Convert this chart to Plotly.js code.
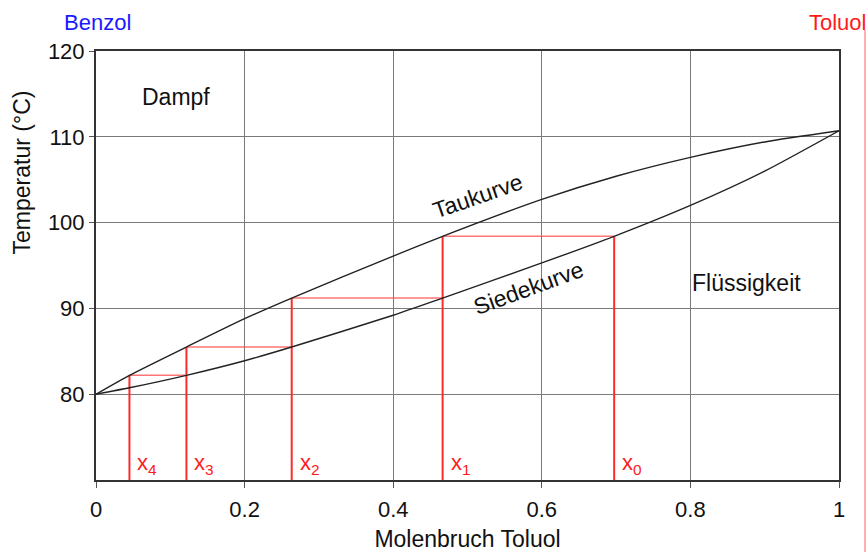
<!DOCTYPE html>
<html>
<head>
<meta charset="utf-8">
<script src="https://cdn.plot.ly/plotly-3.0.1.min.js"></script>
<style>html,body{margin:0;padding:0;background:#fff;}#chart{width:868px;height:552px;}</style>
</head>
<body>
<div id="chart"></div>
<script>
// Dew curve (Taukurve)
const dewX = [0, 0.045, 0.1217, 0.2, 0.2634, 0.4, 0.4665, 0.6, 0.7, 0.8, 0.9, 1];
const dewT = [80, 82.2, 85.5, 88.8, 91.2, 96.1, 98.4, 102.7, 105.4, 107.6, 109.4, 110.7];
// Boiling curve (Siedekurve)
const boilX = [0, 0.045, 0.1217, 0.2, 0.2634, 0.4, 0.4665, 0.6, 0.6974, 0.8, 0.9, 1];
const boilT = [80, 80.75, 82.2, 83.9, 85.5, 89.2, 91.2, 95.3, 98.4, 102.0, 106.0, 110.7];
// Staircase compositions x0..x4 and horizontal step temperatures
const stepX = [0.6974, 0.4665, 0.2634, 0.1217, 0.045];
const stepT = [98.4, 91.2, 85.5, 82.2];
const stepLabels = ['x<sub>0</sub>', 'x<sub>1</sub>', 'x<sub>2</sub>', 'x<sub>3</sub>', 'x<sub>4</sub>'];
const xTicks = [0, 0.2, 0.4, 0.6, 0.8, 1];
const xTickText = ['0', '0.2', '0.4', '0.6', '0.8', '1'];
const yTicks = [80, 90, 100, 110, 120];
const yMin = 70, yMax = 120;

const FONT = 'Liberation Sans, Arial, sans-serif';

// vertical red lines
const vx = [], vy = [];
stepX.forEach((x, i) => {
  const top = stepT[Math.max(i - 1, 0)];
  vx.push(x, x, null); vy.push(yMin, top, null);
});
// horizontal red lines
const hx = [], hy = [];
stepT.forEach((t, i) => {
  hx.push(stepX[i + 1], stepX[i], null); hy.push(t, t, null);
});

const traces = [
  {x: hx, y: hy, mode: 'lines', line: {color: 'rgba(255,70,70,0.75)', width: 1.5}, hoverinfo: 'skip'},
  {x: vx, y: vy, mode: 'lines', line: {color: '#ff2a2a', width: 2}, hoverinfo: 'skip'},
  {x: dewX, y: dewT, mode: 'lines', line: {color: '#222', width: 1.4, shape: 'spline', smoothing: 0.6}, name: 'Taukurve'},
  {x: boilX, y: boilT, mode: 'lines', line: {color: '#222', width: 1.4, shape: 'spline', smoothing: 0.6}, name: 'Siedekurve'}
];

const annotations = [
  {text: 'Benzol', xref: 'paper', yref: 'paper', x: 0.002, y: 1.067, showarrow: false, font: {family: FONT, size: 22, color: '#1a1aff'}, xanchor: 'center', yanchor: 'middle'},
  {text: 'Toluol', xref: 'paper', yref: 'paper', x: 0.998, y: 1.067, showarrow: false, font: {family: FONT, size: 22, color: '#ff1a1a'}, xanchor: 'center', yanchor: 'middle'},
  {text: 'Temperatur (°C)', xref: 'paper', yref: 'paper', x: -0.099, y: 0.718, textangle: -90, showarrow: false, font: {family: FONT, size: 23, color: '#111'}, xanchor: 'center', yanchor: 'middle'},
  {text: 'Dampf', x: 0.107, y: 114.6, showarrow: false, font: {family: FONT, size: 23, color: '#111'}},
  {text: 'Flüssigkeit', x: 0.875, y: 93.0, showarrow: false, font: {family: FONT, size: 23, color: '#111'}},
  {text: 'Taukurve', x: 0.514, y: 103.1, textangle: -19, showarrow: false, font: {family: FONT, size: 23, color: '#111'}},
  {text: 'Siedekurve', x: 0.582, y: 92.4, textangle: -20, showarrow: false, font: {family: FONT, size: 23, color: '#111'}}
];
stepX.forEach((x, i) => {
  annotations.push({text: stepLabels[i], x: x, y: 71.9, xanchor: 'left', xshift: 6, yanchor: 'middle', showarrow: false, font: {family: FONT, size: 22, color: '#ff1a1a'}});
});

const layout = {
  width: 868, height: 552,
  margin: {l: 95.5, r: 29, t: 51, b: 71.5},
  paper_bgcolor: '#fff', plot_bgcolor: '#fff',
  showlegend: false,
  font: {family: FONT, size: 22, color: '#111'},
  xaxis: {
    range: [0, 1], tickvals: xTicks, ticktext: xTickText,
    showgrid: true, gridcolor: '#7a7a7a', gridwidth: 1.3,
    showline: true, linecolor: '#333', linewidth: 2, mirror: true,
    ticks: 'outside', ticklen: 6, tickcolor: '#555', zeroline: false,
    ticklabelstandoff: 3,
    tickfont: {family: FONT, size: 22, color: '#111'},
    title: {text: 'Molenbruch Toluol', font: {family: FONT, size: 23, color: '#111'}, standoff: 12}
  },
  yaxis: {
    range: [yMin, yMax], tickvals: yTicks,
    showgrid: true, gridcolor: '#7a7a7a', gridwidth: 1.3,
    showline: true, linecolor: '#333', linewidth: 2, mirror: true,
    ticks: 'outside', ticklen: 5, tickcolor: '#555', zeroline: false,
    tickfont: {family: FONT, size: 22, color: '#111'}
  },
  annotations: annotations,
  shapes: [
    {type: 'line', xref: 'paper', yref: 'paper', x0: 1.035, x1: 1.035, y0: -0.17, y1: 1.049, line: {color: 'rgba(255,60,60,0.55)', width: 1.5}}
  ]
};

Plotly.newPlot('chart', traces, layout, {staticPlot: true, displayModeBar: false});
</script>
</body>
</html>
